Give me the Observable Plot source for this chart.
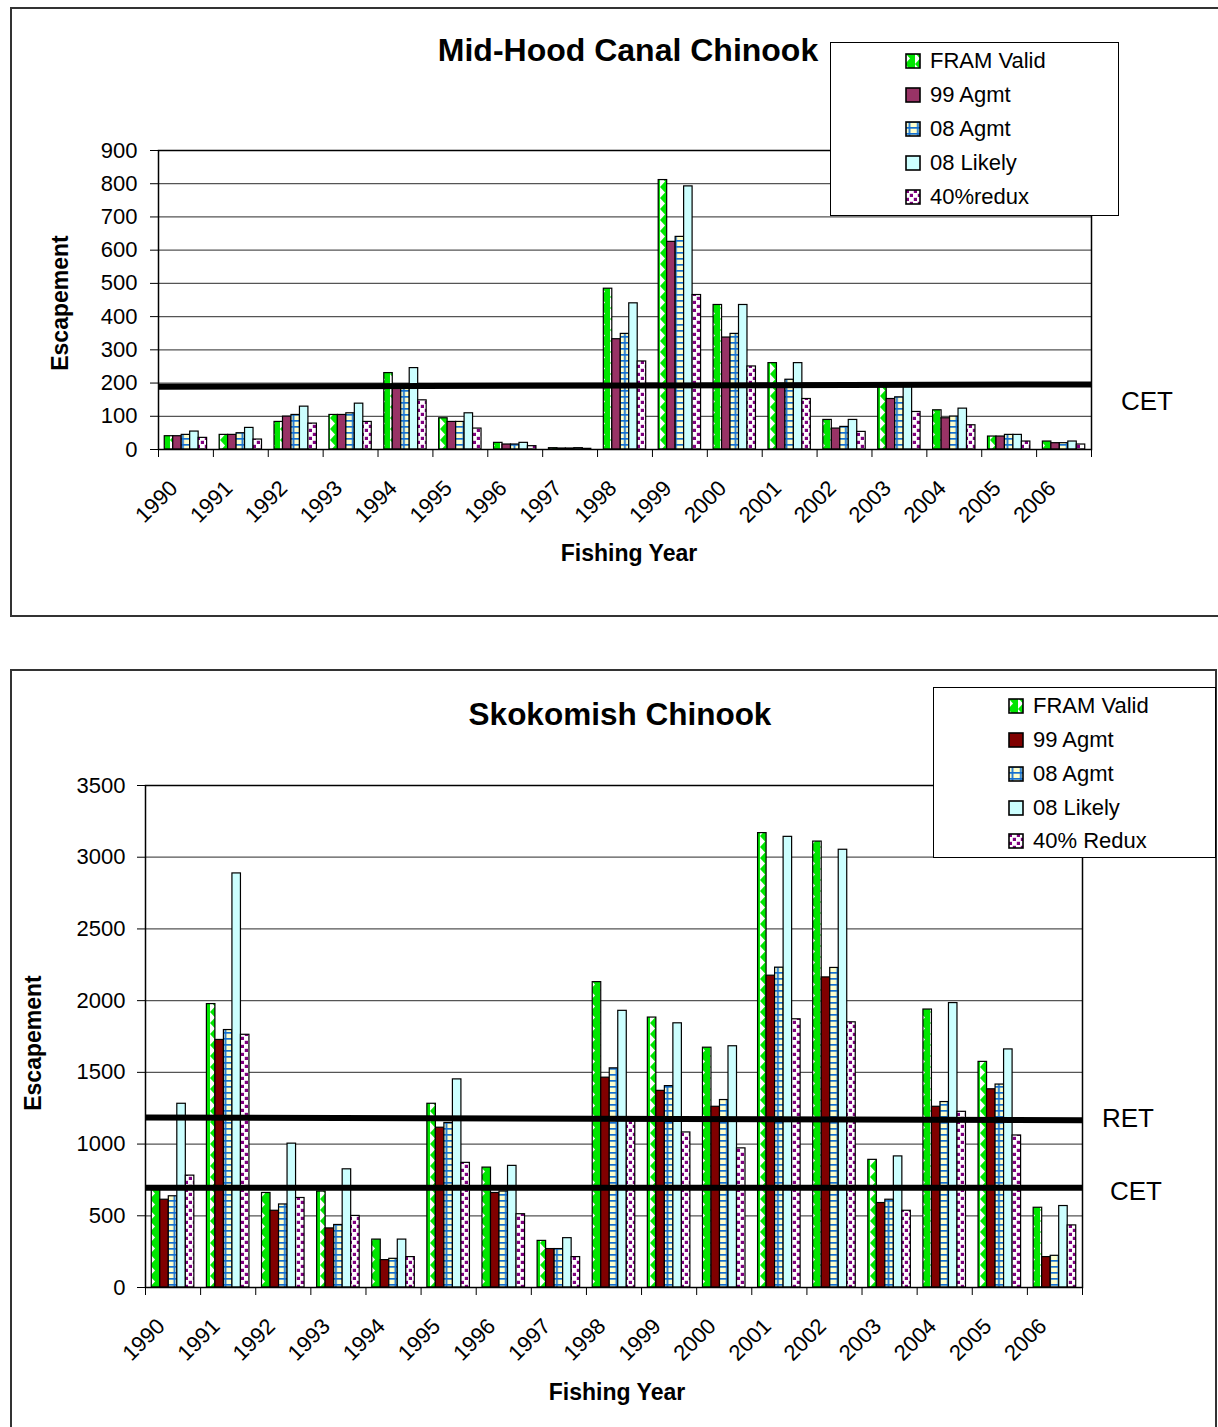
<!DOCTYPE html>
<html><head><meta charset="utf-8">
<script src="https://cdn.jsdelivr.net/npm/d3@7"></script>
<script src="https://cdn.jsdelivr.net/npm/@observablehq/plot@0.6"></script>
<style>
body{margin:0;background:#fff;}
#page{position:relative;width:1218px;height:1427px;overflow:hidden;background:#fff;font-family:'Liberation Sans',Arial,sans-serif;color:#000;}
.frame{position:absolute;border:2px solid #333;box-sizing:border-box;z-index:0;}
.abs{position:absolute;white-space:nowrap;z-index:3;}
.title{font-weight:bold;font-size:32px;transform:translate(-50%,-50%);}
.axt{font-weight:bold;font-size:23px;transform:translate(-50%,-50%);}
.ylab{font-weight:bold;font-size:23px;transform:translate(-50%,-50%) rotate(-90deg);}
.legend{position:absolute;background:#fff;border:1.5px solid #000;box-sizing:border-box;z-index:5;}
.lrow{position:absolute;font-size:22px;display:flex;align-items:center;height:26px;white-space:nowrap;}
.lrow svg{margin-right:9px;}
.ref{font-size:26px;}
.plotwrap{position:absolute;left:0;z-index:2;}
</style></head>
<body>
<svg width="0" height="0" style="position:absolute;left:0;top:0">
<defs>
<pattern id="pFram" patternUnits="userSpaceOnUse" width="10" height="11">
  <rect width="10" height="11" fill="#00e600"/>
  <polygon points="0,0 5,5.5 0,11" fill="#ffffff"/>
</pattern>
<pattern id="p08" patternUnits="userSpaceOnUse" width="8.5" height="6">
  <rect width="8.5" height="6" fill="#ffffcc"/>
  <rect x="3.5" y="0" width="1.8" height="6" fill="#1570d0"/>
  <rect x="0" y="0" width="8.5" height="1.7" fill="#1570d0"/>
</pattern>
<pattern id="pRedux" patternUnits="userSpaceOnUse" width="8" height="8">
  <rect width="8" height="8" fill="#ffffff"/>
  <rect x="0.8" y="0.8" width="3.2" height="3.2" fill="#800080"/>
  <rect x="4.8" y="4.8" width="3.2" height="3.2" fill="#800080"/>
</pattern>
</defs>
</svg>
<div id="page">
  <div class="frame" style="left:10px;top:7px;width:1220px;height:610px;"></div>
  <div class="frame" style="left:10px;top:669px;width:1207px;height:800px;"></div>
  <div id="top" class="plotwrap" style="top:0px;"></div>
  <div id="bot" class="plotwrap" style="top:660px;"></div>

  <div class="abs title" style="left:628px;top:50px;">Mid-Hood Canal Chinook</div>
  <div class="abs ylab" style="left:60px;top:303px;">Escapement</div>
  <div class="abs axt" style="left:629px;top:553px;">Fishing Year</div>
  <div class="abs ref" style="left:1121px;top:386px;">CET</div>
  <div id="legTop" class="legend" style="left:830px;top:42px;width:289px;height:174px;"></div>

  <div class="abs title" style="left:620px;top:714px;font-size:31.5px;">Skokomish Chinook</div>
  <div class="abs ylab" style="left:33px;top:1043px;">Escapement</div>
  <div class="abs axt" style="left:617px;top:1392px;">Fishing Year</div>
  <div class="abs ref" style="left:1102px;top:1103px;">RET</div>
  <div class="abs ref" style="left:1110px;top:1176px;">CET</div>
  <div id="legBot" class="legend" style="left:933px;top:687px;width:283px;height:171px;"></div>
</div>
<script>
// ---- data ----
const years = ["1990","1991","1992","1993","1994","1995","1996","1997","1998","1999","2000","2001","2002","2003","2004","2005","2006"];

const seriesTop = ["FRAM Valid", "99 Agmt", "08 Agmt", "08 Likely", "40%redux"];
const framTop   = [40, 44, 83, 104, 230, 94, 20, 4, 484, 811, 435, 260, 89, 195, 118, 39, 24];
const agmt99Top = [40, 44, 99, 104, 192, 83, 15, 3, 332, 625, 337, 195, 63, 152, 94, 39, 19];
const agmt08Top = [44, 49, 104, 109, 190, 83, 15, 3, 348, 640, 348, 210, 68, 157, 99, 44, 19];
const likelyTop = [54, 65, 129, 138, 245, 109, 20, 4, 440, 792, 435, 260, 89, 198, 123, 44, 24];
const reduxTop  = [35, 30, 78, 83, 148, 63, 10, 2, 265, 465, 250, 152, 53, 113, 73, 24, 15];
const yTicksTop = [0, 100, 200, 300, 400, 500, 600, 700, 800, 900];
const cetTop = [189, 196];

const seriesBot = ["FRAM Valid", "99 Agmt", "08 Agmt", "08 Likely", "40% Redux"];
const framBot   = [700, 1976, 659, 669, 334, 1281, 836, 325, 2129, 1882, 1672, 3168, 3109, 890, 1938, 1573, 556];
const agmt99Bot = [612, 1726, 535, 412, 191, 1114, 659, 268, 1463, 1371, 1260, 2174, 2162, 589, 1260, 1382, 212];
const agmt08Bot = [636, 1795, 579, 436, 200, 1147, 669, 268, 1528, 1404, 1307, 2230, 2228, 612, 1293, 1415, 221];
const likelyBot = [1281, 2887, 1003, 824, 334, 1451, 848, 344, 1929, 1842, 1682, 3142, 3052, 914, 1983, 1660, 568];
const reduxBot  = [780, 1762, 624, 499, 212, 869, 511, 212, 1160, 1081, 970, 1870, 1849, 535, 1225, 1060, 433];
const yTicksBot = [0, 500, 1000, 1500, 2000, 2500, 3000, 3500];
const retBot = [1185, 1166];
const cetBot = [695, 695];

const fillsTop = ["url(#pFram)", "#993366", "url(#p08)", "#ccffff", "url(#pRedux)"];
const fillsBot = ["url(#pFram)", "#800000", "url(#p08)", "#ccffff", "url(#pRedux)"];

// ---- drawing ----
const GROUP = 0.772, BW = GROUP / 5;
const xDomain = [-0.5, years.length - 0.5];

function chart({series, fills, yTicks, refLines, height, mt, mb, ml, mr, tickPad}) {
  const rows = series.flatMap((arr, si) => arr.map((v, yi) => ({yi, si, v})));
  const yMax = yTicks[yTicks.length - 1];
  const marks = [
    Plot.ruleY(yTicks.filter(t => t > 0 && t < yMax), {stroke: "#555", strokeWidth: 1.3}),
    ...fills.map((f, si) => Plot.rectY(rows.filter(r => r.si === si), {
      x1: r => r.yi - GROUP / 2 + r.si * BW,
      x2: r => r.yi - GROUP / 2 + (r.si + 1) * BW,
      y1: 0, y2: "v",
      fill: f, stroke: "#000", strokeWidth: 1.2
    })),
    ...refLines.map(vals => Plot.line(vals.map((v, i) => ({x: xDomain[i], y: v})), {
      x: "x", y: "y", stroke: "#000", strokeWidth: 6, strokeLinecap: "butt"
    })),
    Plot.frame({stroke: "#000", strokeWidth: 1.5}),
    Plot.text(years, {
      x: (d, i) => i, frameAnchor: "bottom", text: d => d,
      rotate: -45, textAnchor: "end", dx: -7, dy: 40, fontSize: 22
    })
  ];
  return Plot.plot({
    width: 1218, height,
    marginTop: mt, marginBottom: mb, marginLeft: ml, marginRight: mr,
    style: {background: "transparent", fontFamily: "'Liberation Sans', Arial, sans-serif", fontSize: "22px", overflow: "visible", color: "#000"},
    x: {domain: xDomain, ticks: d3.range(-0.5, years.length, 1), tickFormat: () => "", tickSize: 8, label: null},
    y: {domain: [0, yMax], ticks: yTicks, tickFormat: d => String(d), tickSize: 8, tickPadding: tickPad, label: null},
    marks
  });
}

document.getElementById("top").appendChild(chart({
  series: [framTop, agmt99Top, agmt08Top, likelyTop, reduxTop],
  fills: fillsTop, yTicks: yTicksTop, refLines: [cetTop],
  height: 620, mt: 150, mb: 171, ml: 158, mr: 127, tickPad: 13
}));
document.getElementById("bot").appendChild(chart({
  series: [framBot, agmt99Bot, agmt08Bot, likelyBot, reduxBot],
  fills: fillsBot, yTicks: yTicksBot, refLines: [retBot, cetBot],
  height: 767, mt: 125, mb: 140, ml: 145, mr: 136, tickPad: 12
}));

function legend(el, names, fills, rowsTop) {
  names.forEach((n, i) => {
    const row = document.createElement("div");
    row.className = "lrow";
    row.style.left = "74px";
    row.style.top = (rowsTop[i] - 13) + "px";
    row.innerHTML = `<svg width="16" height="16"><rect x="1" y="1" width="14" height="14" fill="${fills[i]}" stroke="#000" stroke-width="1.6"/></svg><span>${n}</span>`;
    el.appendChild(row);
  });
}
legend(document.getElementById("legTop"), seriesTop, fillsTop, [18, 52, 86, 120, 154]);
legend(document.getElementById("legBot"), seriesBot, fillsBot, [18, 52, 86, 120, 153]);
</script>
</body></html>
